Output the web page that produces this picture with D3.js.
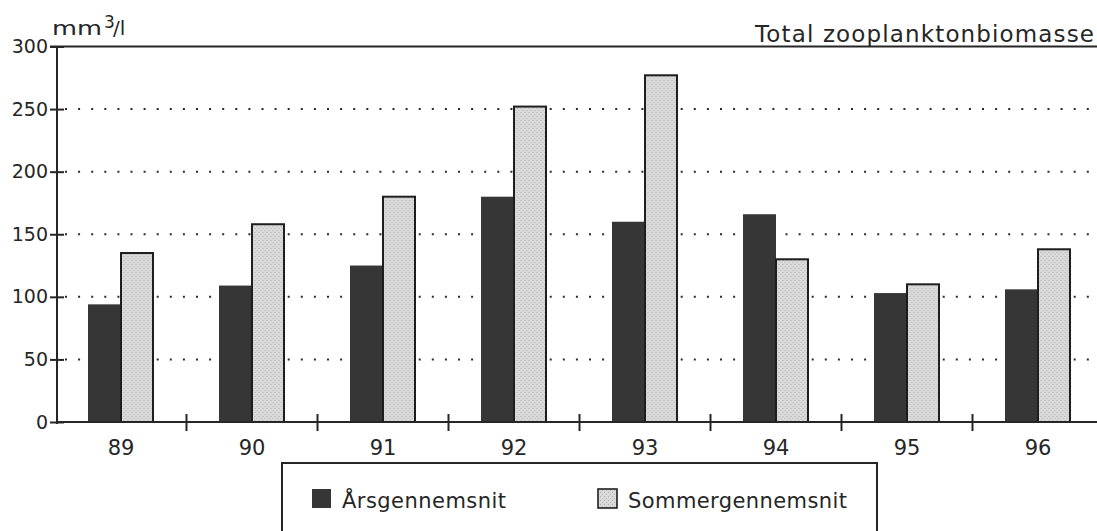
<!DOCTYPE html>
<html>
<head>
<meta charset="utf-8">
<script src="https://cdn.jsdelivr.net/npm/d3@7"></script>
<style>
  html, body { margin: 0; padding: 0; background: #fff; }
  svg { display: block; }
  text { font-family: "DejaVu Sans", sans-serif; fill: #262626; }
</style>
</head>
<body>
<svg id="chart" width="1097" height="531"></svg>
<script>
// Years (two-digit) and the two biomass series, mm3/l
const years = ["89", "90", "91", "92", "93", "94", "95", "96"];
const annualMean = [94, 109, 125, 180, 160, 166, 103, 106];   // Årsgennemsnit
const summerMean = [135, 158, 180, 252, 277, 130, 110, 138];  // Sommergennemsnit
const yTicks = [0, 50, 100, 150, 200, 250, 300];
const seriesKeys = ["annual", "summer"];
const legendLabels = ["Årsgennemsnit", "Sommergennemsnit"];

const rows = years.map((y, i) => ({ year: y, annual: annualMean[i], summer: summerMean[i] }));

const svg = d3.select("#chart");
const ink = "#262626";
const dark = "#363636";

// stippled light-grey fill used for the summer series
const defs = svg.append("defs");
const pat = defs.append("pattern")
  .attr("id", "stipple").attr("patternUnits", "userSpaceOnUse")
  .attr("width", 4).attr("height", 4);
pat.append("rect").attr("width", 4).attr("height", 4).attr("fill", "#dadada");
pat.append("rect").attr("x", 0).attr("y", 0).attr("width", 1).attr("height", 1).attr("fill", "#a9a9a9");
pat.append("rect").attr("x", 2).attr("y", 2).attr("width", 1).attr("height", 1).attr("fill", "#b4b4b4");

const x = d3.scaleBand().domain(years).range([55.5, 1103.5]).paddingInner(0).paddingOuter(0);
const xs = d3.scaleBand().domain(seriesKeys).range([0, x.bandwidth()]).paddingInner(0).paddingOuter(0.985);
const y = d3.scaleLinear().domain([0, 300]).range([422, 46.5]);

const axisX = 57, rightEdge = 1097;

// dotted gridlines
svg.append("g").selectAll("line")
  .data(yTicks.filter(v => v > 0 && v < 300))
  .join("line")
  .attr("x1", axisX + 8).attr("x2", rightEdge)
  .attr("y1", d => y(d)).attr("y2", d => y(d))
  .attr("stroke", "#2a2a2a").attr("stroke-width", 2)
  .attr("stroke-dasharray", "2,11.1");

// top rule at 300 (also underlines the title)
svg.append("line")
  .attr("x1", 50).attr("x2", rightEdge)
  .attr("y1", y(300)).attr("y2", y(300))
  .attr("stroke", ink).attr("stroke-width", 2);

// bars
const groups = svg.append("g").selectAll("g")
  .data(rows).join("g")
  .attr("transform", d => `translate(${x(d.year)},0)`);

groups.append("rect")
  .attr("x", xs("annual"))
  .attr("width", xs.bandwidth())
  .attr("y", d => y(d.annual))
  .attr("height", d => y(0) - y(d.annual))
  .attr("fill", dark);

groups.append("rect")
  .attr("x", xs("summer"))
  .attr("width", xs.bandwidth() - 1)
  .attr("y", d => y(d.summer))
  .attr("height", d => y(0) - y(d.summer))
  .attr("fill", "url(#stipple)")
  .attr("stroke", "#1e1e1e").attr("stroke-width", 2);

// y axis
const yAxis = d3.axisLeft(y).tickValues(yTicks).tickSize(0).tickPadding(9);
const gy = svg.append("g").attr("transform", `translate(${axisX},0)`).call(yAxis);
gy.select(".domain").remove();
gy.selectAll("text").attr("font-size", 19).attr("fill", ink).attr("font-family", "DejaVu Sans");
gy.selectAll(".tick").append("line")
  .attr("x1", -7).attr("x2", 7).attr("stroke", ink).attr("stroke-width", 2);
svg.append("line")
  .attr("x1", axisX).attr("x2", axisX)
  .attr("y1", y(300)).attr("y2", y(0) + 2)
  .attr("stroke", ink).attr("stroke-width", 2);

// x axis
svg.append("line")
  .attr("x1", axisX).attr("x2", rightEdge)
  .attr("y1", y(0)).attr("y2", y(0))
  .attr("stroke", ink).attr("stroke-width", 2);
const xAxis = d3.axisBottom(x).tickSize(0).tickPadding(0);
const gx = svg.append("g").attr("transform", `translate(0,${y(0)})`).call(xAxis);
gx.select(".domain").remove();
gx.selectAll("text")
  .attr("dy", null).attr("y", 33)
  .attr("font-size", 21).attr("fill", ink).attr("font-family", "DejaVu Sans");
// tick marks between year groups
svg.append("g").selectAll("line")
  .data(years.slice(0, -1))
  .join("line")
  .attr("x1", d => x(d) + x.bandwidth()).attr("x2", d => x(d) + x.bandwidth())
  .attr("y1", y(0) - 8).attr("y2", y(0) + 9)
  .attr("stroke", ink).attr("stroke-width", 2);

// unit label
svg.append("text").attr("x", 52).attr("y", 35).attr("font-size", 20)
  .attr("textLength", 50).attr("lengthAdjust", "spacingAndGlyphs").text("mm");
svg.append("text").attr("x", 104).attr("y", 28).attr("font-size", 17).text("3");
svg.append("text").attr("x", 113).attr("y", 35).attr("font-size", 20).text("/l");

// title
svg.append("text").attr("x", 1094).attr("y", 42).attr("font-size", 23)
  .attr("text-anchor", "end")
  .attr("textLength", 339).attr("lengthAdjust", "spacing")
  .text("Total zooplanktonbiomasse");

// legend
const lg = svg.append("g");
lg.append("rect").attr("x", 282).attr("y", 463).attr("width", 595).attr("height", 100)
  .attr("fill", "none").attr("stroke", ink).attr("stroke-width", 2);
const legendItems = [
  { key: "annual", label: legendLabels[0], sx: 312, tx: 342, tw: 164 },
  { key: "summer", label: legendLabels[1], sx: 598, tx: 628, tw: 219 }
];
legendItems.forEach(it => {
  lg.append("rect").attr("x", it.sx).attr("y", 489).attr("width", 19).attr("height", 19)
    .attr("fill", it.key === "annual" ? dark : "url(#stipple)")
    .attr("stroke", it.key === "annual" ? "none" : "#1e1e1e")
    .attr("stroke-width", 1.6);
  lg.append("text").attr("x", it.tx).attr("y", 508).attr("font-size", 21)
    .attr("textLength", it.tw).attr("lengthAdjust", "spacing")
    .text(it.label);
});
</script>
</body>
</html>
